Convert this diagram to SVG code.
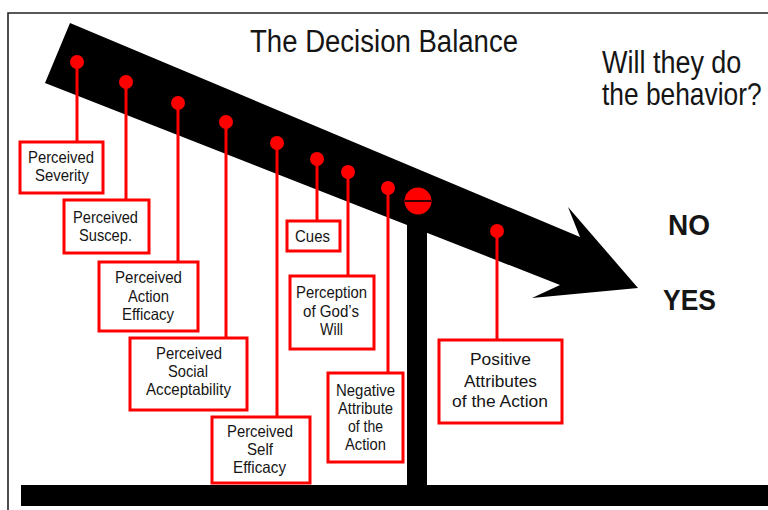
<svg xmlns="http://www.w3.org/2000/svg" width="768" height="510" viewBox="0 0 768 510">
<style>
.t{font-family:"Liberation Sans",Arial,sans-serif;fill:#151515}
.b{font-size:16.5px}
.box{fill:#fff;stroke:#f00;stroke-width:3}
.ln{stroke:#f00;stroke-width:3;fill:none}
.dot{fill:#f00}
</style>
<rect width="768" height="510" fill="#fff"/>
<path d="M8 510 V13 H768" fill="none" stroke="#222" stroke-width="1.6"/>
<g id="base">
<rect x="21" y="485" width="747" height="21" fill="#000"/>
<rect x="407" y="200" width="20" height="290" fill="#000"/>
</g>
<g id="beam">
<polygon points="70,23 580,237 568,207 638,288 532,298 560,285 45,83" fill="#000"/>
</g>
<g id="titles">
<text class="t" x="250" y="52" font-size="31" textLength="268" lengthAdjust="spacingAndGlyphs">The Decision Balance</text>
<text class="t" font-size="31" transform="translate(602,73) scale(0.87,1)">Will they do</text>
<text class="t" font-size="31" transform="translate(602,105) scale(0.85,1)">the behavior?</text>
<text class="t" x="668" y="235" font-size="29" font-weight="bold" textLength="42" lengthAdjust="spacingAndGlyphs">NO</text>
<text class="t" x="663" y="310" font-size="30" font-weight="bold" textLength="53" lengthAdjust="spacingAndGlyphs">YES</text>
</g>
<g id="connectors">
<line class="ln" x1="77" y1="62" x2="77" y2="142"/>
<line class="ln" x1="126" y1="82" x2="126" y2="200"/>
<line class="ln" x1="178" y1="103" x2="178" y2="262"/>
<line class="ln" x1="226" y1="122" x2="226" y2="338"/>
<line class="ln" x1="277" y1="143" x2="277" y2="417"/>
<line class="ln" x1="317" y1="159" x2="317" y2="221"/>
<line class="ln" x1="348" y1="172" x2="348" y2="276"/>
<line class="ln" x1="388" y1="188" x2="388" y2="373"/>
<line class="ln" x1="497" y1="231" x2="497" y2="340"/>
<circle class="dot" cx="77" cy="62" r="7"/>
<circle class="dot" cx="126" cy="82" r="7"/>
<circle class="dot" cx="178" cy="103" r="7"/>
<circle class="dot" cx="226" cy="122" r="7"/>
<circle class="dot" cx="277" cy="143" r="7"/>
<circle class="dot" cx="317" cy="159" r="7"/>
<circle class="dot" cx="348" cy="172" r="7"/>
<circle class="dot" cx="388" cy="188" r="7"/>
<circle class="dot" cx="497" cy="231" r="7"/>
</g>
<g id="fulcrum">
<circle cx="418" cy="201" r="13.5" fill="#f00"/>
<line x1="405" y1="201" x2="431" y2="201" stroke="#300" stroke-width="2"/>
</g>
<g id="n1">
<rect class="box" x="20" y="142" width="83" height="51"/>
<text class="t b" x="28" y="163" textLength="66" lengthAdjust="spacingAndGlyphs">Perceived</text>
<text class="t b" x="35" y="181" textLength="54" lengthAdjust="spacingAndGlyphs">Severity</text>
</g>
<g id="n2">
<rect class="box" x="64" y="200" width="85" height="53"/>
<text class="t b" x="73" y="223" textLength="65" lengthAdjust="spacingAndGlyphs">Perceived</text>
<text class="t b" x="79" y="241" textLength="53" lengthAdjust="spacingAndGlyphs">Suscep.</text>
</g>
<g id="n3">
<rect class="box" x="99" y="262" width="99" height="69"/>
<text class="t b" x="115" y="283" textLength="67" lengthAdjust="spacingAndGlyphs">Perceived</text>
<text class="t b" x="128" y="302" textLength="41" lengthAdjust="spacingAndGlyphs">Action</text>
<text class="t b" x="122" y="320" textLength="52" lengthAdjust="spacingAndGlyphs">Efficacy</text>
</g>
<g id="n4">
<rect class="box" x="130" y="338" width="117" height="72"/>
<text class="t b" x="156" y="359" textLength="66" lengthAdjust="spacingAndGlyphs">Perceived</text>
<text class="t b" x="168" y="377" textLength="40" lengthAdjust="spacingAndGlyphs">Social</text>
<text class="t b" x="146" y="395" textLength="85" lengthAdjust="spacingAndGlyphs">Acceptability</text>
</g>
<g id="n5">
<rect class="box" x="212" y="417" width="98" height="66"/>
<text class="t b" x="227" y="437" textLength="66" lengthAdjust="spacingAndGlyphs">Perceived</text>
<text class="t b" x="247" y="455" textLength="26" lengthAdjust="spacingAndGlyphs">Self</text>
<text class="t b" x="233" y="473" textLength="53" lengthAdjust="spacingAndGlyphs">Efficacy</text>
</g>
<g id="n6">
<rect class="box" x="287" y="221" width="53" height="30"/>
<text class="t b" x="295" y="242" textLength="35" lengthAdjust="spacingAndGlyphs">Cues</text>
</g>
<g id="n7">
<rect class="box" x="290" y="276" width="84" height="73"/>
<text class="t b" x="296" y="298" textLength="71" lengthAdjust="spacingAndGlyphs">Perception</text>
<text class="t b" x="303" y="317" textLength="56" lengthAdjust="spacingAndGlyphs">of God’s</text>
<text class="t b" x="320" y="335" textLength="23" lengthAdjust="spacingAndGlyphs">Will</text>
</g>
<g id="n8">
<rect class="box" x="328" y="373" width="75" height="89"/>
<text class="t b" x="336" y="396" textLength="59" lengthAdjust="spacingAndGlyphs">Negative</text>
<text class="t b" x="338" y="414" textLength="55" lengthAdjust="spacingAndGlyphs">Attribute</text>
<text class="t b" x="348" y="432" textLength="35" lengthAdjust="spacingAndGlyphs">of the</text>
<text class="t b" x="345" y="450" textLength="41" lengthAdjust="spacingAndGlyphs">Action</text>
</g>
<g id="n9">
<rect class="box" x="439" y="340" width="123" height="83"/>
<text class="t b" x="470" y="365" textLength="61" lengthAdjust="spacingAndGlyphs">Positive</text>
<text class="t b" x="464" y="387" textLength="73" lengthAdjust="spacingAndGlyphs">Attributes</text>
<text class="t b" x="452" y="407" textLength="96" lengthAdjust="spacingAndGlyphs">of the Action</text>
</g>
</svg>
